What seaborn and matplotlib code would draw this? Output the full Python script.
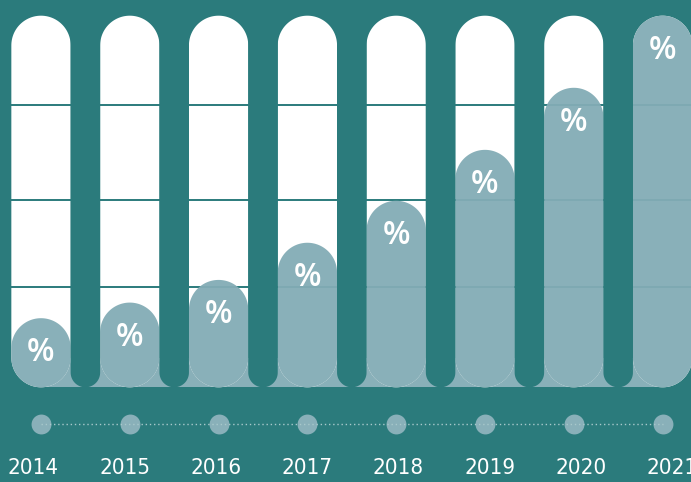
import matplotlib
matplotlib.use("Agg")
import matplotlib.pyplot as plt
from matplotlib.patches import Polygon
import numpy as np
import seaborn as sns
import pandas as pd

# Data
years = ["2014", "2015", "2016", "2017", "2018", "2019", "2020", "2021"]
shares = [18.6, 22.8, 28.9, 38.9, 50.2, 63.9, 80.6, 100.0]
scale_max = [100.0] * len(years)
grid_levels = [27.1, 50.3, 75.9]
label_text = "%"

# Colours
TEAL = "#2b7b7c"
TRACK = "#ffffff"
FILL = "#83acb5"
FILL_SOLID = "#89b0b9"
DOTLINE = "#a8c8cb"

sns.set_theme(style="white")
plt.rcParams["font.family"] = ["Open Sans", "DejaVu Sans"]

W_IN, H_IN, DPI = 6.91, 4.82, 100
fig = plt.figure(figsize=(W_IN, H_IN), dpi=DPI, facecolor=TEAL)
ax = fig.add_axes([0, 0, 1, 1])
ax.set_facecolor(TEAL)

df = pd.DataFrame({"year": years, "share": shares, "full": scale_max})

BAR_W = 0.668
# background tracks and value bars through seaborn's categorical axis
sns.barplot(data=df, x="year", y="full", color=TRACK, width=BAR_W,
            saturation=1, ax=ax, zorder=1)
n_track = len(ax.patches)
sns.barplot(data=df, x="year", y="share", color=FILL, width=BAR_W,
            saturation=1, ax=ax, zorder=3)

XLIM = (-0.4617, 7.320)
YLIM = (-25.48, 104.22)
ax.set_xlim(*XLIM)
ax.set_ylim(*YLIM)
ax.set_axis_off()

# pixel-per-unit ratio so that rounded ends are true semicircles
px_x = W_IN * DPI / (XLIM[1] - XLIM[0])
px_y = H_IN * DPI / (YLIM[1] - YLIM[0])
aspect = px_x / px_y


def pill_outline(x, y0, w, h, n=60):
    """Vertical capsule with semicircular ends, in data units."""
    r = w / 2
    ry = min(r * aspect, h / 2)
    xc = x + r
    t_top = np.linspace(0, np.pi, n)
    t_bot = np.linspace(np.pi, 2 * np.pi, n)
    top = np.column_stack([xc + r * np.cos(t_top),
                           y0 + h - ry + ry * np.sin(t_top)])
    bot = np.column_stack([xc + r * np.cos(t_bot),
                           y0 + ry + ry * np.sin(t_bot)])
    return np.vstack([top, bot])


def to_pill(rect, color, zorder, alpha=1.0):
    x, y = rect.get_x(), rect.get_y()
    w, h = rect.get_width(), rect.get_height()
    rect.remove()
    pill = Polygon(pill_outline(x, y, w, h), closed=True, facecolor=color,
                   edgecolor="none", alpha=alpha, zorder=zorder)
    ax.add_patch(pill)
    return pill


patches = list(ax.patches)
for p in patches[:n_track]:
    to_pill(p, TRACK, 1)
for p in patches[n_track:]:
    to_pill(p, FILL, 4, alpha=0.95)

# horizontal guide lines across the tracks
ax.hlines(grid_levels, XLIM[0], XLIM[1], color=TEAL, lw=1.4, zorder=2)

# base band joining the columns, lying beneath the tracks
radius_y = (BAR_W / 2) * aspect
ax.fill_between([0, len(years) - 1], 0, radius_y, color=FILL_SOLID,
                lw=0, zorder=0.5)

# teal separators with rounded feet between the columns
gap = 1 - BAR_W
for i in range(len(years) - 1):
    sep = Polygon(pill_outline(i + BAR_W / 2, 0, gap, 200), closed=True,
                  facecolor=TEAL, edgecolor="none", zorder=5)
    ax.add_patch(sep)

# labels inside the bars
for i, v in enumerate(shares):
    ax.annotate(label_text, (i, v), xytext=(0, -25), textcoords="offset points",
                ha="center", va="center", color="white", fontsize=23,
                fontweight="semibold", zorder=6)

# timeline dots
DOT_Y = -9.88
xs = list(range(len(years)))
ax.scatter(xs, [DOT_Y] * len(xs), s=205, color=FILL_SOLID, lw=0, zorder=6)
ax.plot([xs[0], xs[-1]], [DOT_Y, DOT_Y], ls=(0, (1, 2)), lw=1,
        color=DOTLINE, zorder=7)

# year labels on a slightly wider spaced row
ax_lab = fig.add_axes([0, 0, 1, 1], frameon=False)
ax_lab.set_xlim(-33.5 / 91.25, (691 - 33.5) / 91.25)
ax_lab.set_ylim(*YLIM)
ax_lab.set_axis_off()
for i, y in enumerate(years):
    ax_lab.text(i, -21.7, y, ha="center", va="center", color="white",
                fontsize=16, fontstretch="condensed",
                family=["DejaVu Sans", "Open Sans"])

fig.savefig("out.png", dpi=DPI, facecolor=TEAL)
